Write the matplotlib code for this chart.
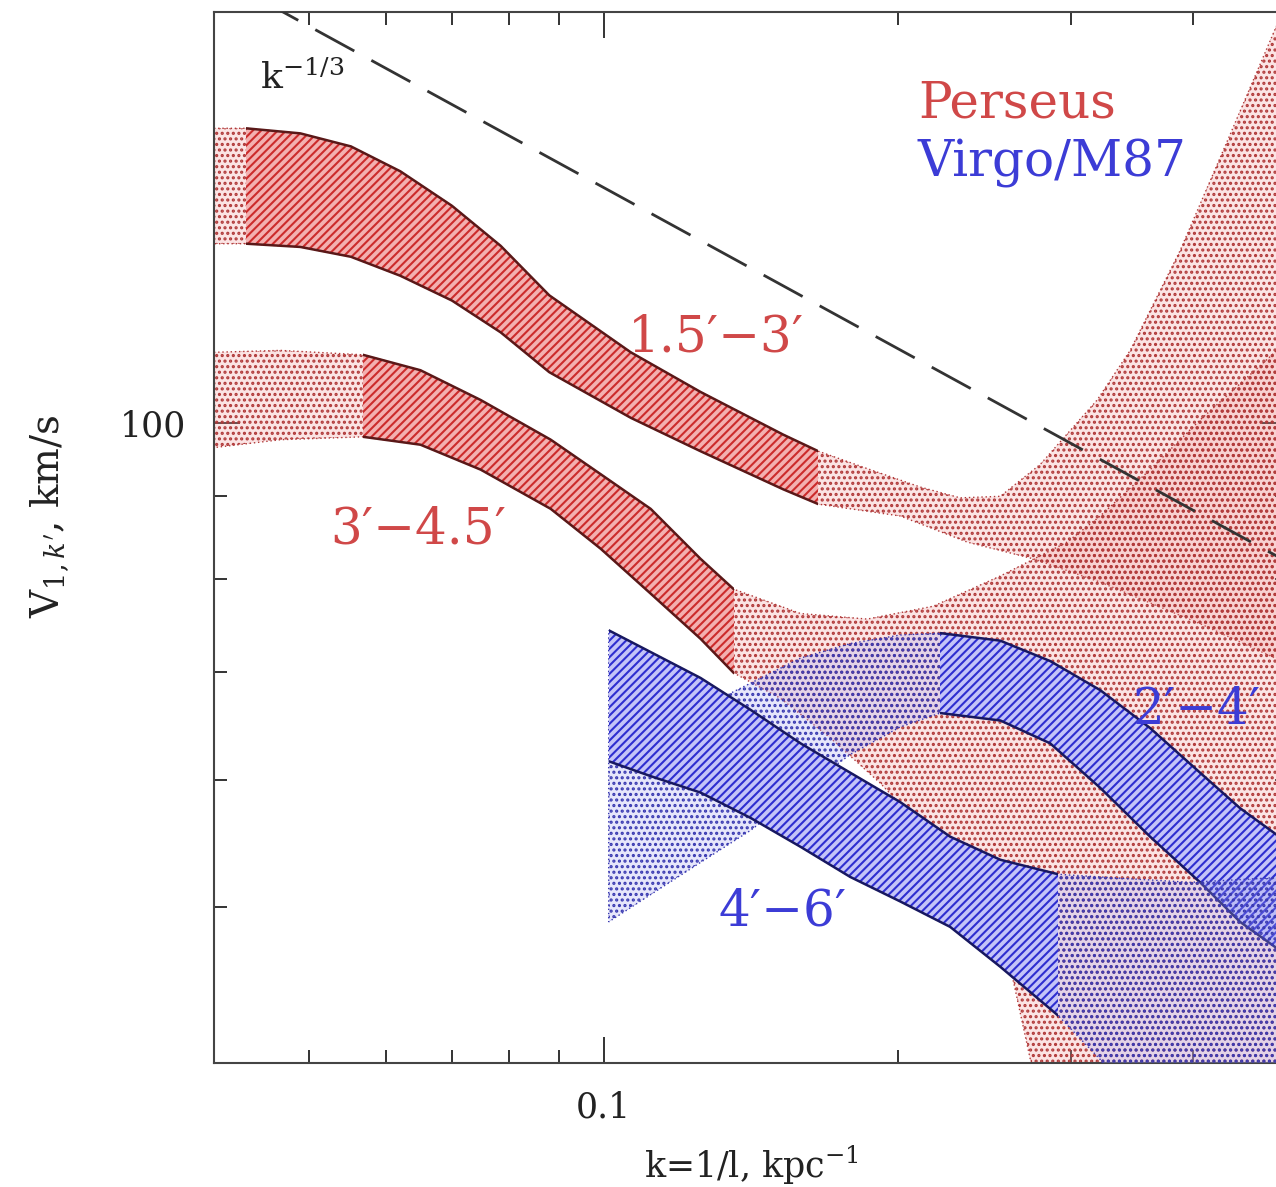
import numpy as np
import matplotlib
matplotlib.use("Agg")
import matplotlib.pyplot as plt
from matplotlib import ticker
from matplotlib.patches import Rectangle

plt.rcParams['font.family'] = ['DejaVu Serif']
plt.rcParams['mathtext.fontset'] = 'dejavuserif'
plt.rcParams['hatch.linewidth'] = 1.5

# Perseus 1.5'-3'
pa_k_up = [0.040, 0.0431, 0.049, 0.0552, 0.062, 0.070, 0.0785, 0.088, 0.1066, 0.1256, 0.1526,
           0.1657, 0.1872, 0.2106, 0.2313, 0.2542, 0.2792, 0.3192, 0.345, 0.3879, 0.4365, 0.4862, 0.5]
pa_v_up = [152.4, 152.4, 151.3, 148.5, 143.3, 136.4, 128.8, 120.0, 110.6, 104.5, 98.3,
           96.0, 93.5, 91.2, 89.8, 90.0, 94.2, 103.3, 110.9, 127.9, 151.1, 176.2, 182.5]
pa_k_lo = [0.040, 0.0431, 0.049, 0.0552, 0.062, 0.070, 0.0785, 0.088, 0.1066, 0.1256, 0.1526,
           0.1657, 0.2009, 0.2351, 0.2747, 0.3215, 0.4066, 0.5]
pa_v_lo = [129.2, 129.2, 128.6, 126.8, 123.4, 119.1, 113.8, 107.5, 100.7, 96.0, 90.9,
           89.0, 87.5, 84.3, 82.3, 79.6, 75.0, 70.8]
pa_meas = (0.0431, 0.1657)

# Perseus 3'-4.5'
pb_k_up = [0.040, 0.0468, 0.0568, 0.065, 0.0749, 0.0883, 0.0993, 0.1117, 0.1256, 0.1358,
           0.1589, 0.1859, 0.2171, 0.2542, 0.2975, 0.3215, 0.3615, 0.4066, 0.5]
pb_v_up = [110.6, 110.9, 110.2, 107.8, 103.3, 97.6, 92.9, 88.4, 82.3, 78.8,
           76.1, 75.5, 76.9, 80.3, 84.3, 87.5, 93.5, 100.4, 112.5]
pb_k_lo = [0.040, 0.0468, 0.0568, 0.065, 0.0749, 0.0883, 0.0993, 0.1117, 0.1256, 0.1358,
           0.1516, 0.1704, 0.1917, 0.2156, 0.2425, 0.2602, 0.2728, 0.2858, 0.5]
pb_v_lo = [96.5, 97.6, 98.0, 96.9, 93.5, 88.4, 83.5, 78.3, 73.4, 69.9,
           67.4, 63.7, 59.7, 55.3, 50.0, 45.9, 40.2, 35.5, 30.0]
pb_meas = (0.0568, 0.1358)

# Virgo/M87 2'-4'
va_k_up = [0.1012, 0.1117, 0.1256, 0.1348, 0.1589, 0.1786, 0.2009, 0.2207, 0.2542, 0.2858,
           0.3215, 0.3615, 0.4066, 0.4467, 0.5]
va_v_up = [61.6, 63.2, 66.0, 67.9, 71.4, 72.9, 73.8, 74.0, 73.2, 71.1,
           68.2, 64.6, 60.6, 57.6, 54.8]
va_k_lo = [0.1012, 0.1117, 0.1256, 0.1413, 0.1589, 0.1786, 0.2009, 0.2207, 0.2542, 0.2858,
           0.3215, 0.3615, 0.4066, 0.4467, 0.5]
va_v_lo = [48.95, 50.9, 53.3, 55.8, 59.0, 62.2, 64.7, 66.0, 65.3, 63.2,
           59.3, 55.3, 51.8, 48.95, 46.6]
va_meas = (0.2207, 0.5)

# Virgo/M87 4'-6'
vb_k_up = [0.1012, 0.1256, 0.1413, 0.1589, 0.1786, 0.2009, 0.2259, 0.2542, 0.2913, 0.3215, 0.3972, 0.5]
vb_v_up = [74.3, 69.4, 66.3, 63.2, 60.6, 58.1, 55.3, 53.5, 52.4, 52.2, 51.8, 52.2]
vb_k_lo = [0.1012, 0.1117, 0.1256, 0.1413, 0.1589, 0.1786, 0.2009, 0.2259, 0.2542, 0.2913,
           0.3215, 0.3615, 0.5]
vb_v_lo = [61.6, 60.3, 58.9, 56.8, 54.5, 52.2, 50.4, 48.6, 45.9, 42.8, 40.2, 35.5, 30.0]
vb_meas = (0.1012, 0.2913)

# k^-1/3 reference line
kol_k = [0.04, 0.5]
kol_v = [190.0, 81.9]

RED = dict(face='#f2a0a0', dots='#b03838', hface='#f3b0b0', lines='#cc2b2b', edge='#5a1818', text='#d04848')
BLUE = dict(face='#a8a8f4', dots='#3838b0', hface='#c4c4f8', lines='#2e2ed0', edge='#181860', text='#3c3cd6')


def band(ax, k_up, v_up, k_lo, v_lo, meas, c, z):
    xs = np.concatenate([k_up, k_lo[::-1]])
    ys = np.concatenate([v_up, v_lo[::-1]])
    # extrapolated part: light tint + dots
    ax.fill(xs, ys, facecolor=c['face'], alpha=0.28, lw=0, zorder=z)
    ax.fill(xs, ys, facecolor='none', edgecolor=c['dots'], hatch='...', lw=1.0,
            ls=(0, (1, 2)), zorder=z + 0.1)
    # measured part: dense hatching
    clip = Rectangle((meas[0], 1), meas[1] - meas[0], 1000, transform=ax.transData)
    p = ax.fill(xs, ys, facecolor=c['hface'], edgecolor=c['lines'], hatch='////', lw=0, zorder=z + 0.2)[0]
    p.set_clip_path(clip)
    for ln in ax.plot(k_up, v_up, k_lo, v_lo, color=c['edge'], lw=1.8, zorder=z + 0.3):
        ln.set_clip_path(clip)


fig = plt.figure(figsize=(12.76, 11.87), dpi=100)
ax = fig.add_axes([0.1677, 0.1045, 0.8417, 0.8854])
ax.set_xscale('log')
ax.set_yscale('log')

band(ax, pa_k_up, pa_v_up, pa_k_lo, pa_v_lo, pa_meas, RED, 1)
band(ax, pb_k_up, pb_v_up, pb_k_lo, pb_v_lo, pb_meas, RED, 2)
band(ax, va_k_up, va_v_up, va_k_lo, va_v_lo, va_meas, BLUE, 3)
band(ax, vb_k_up, vb_v_up, vb_k_lo, vb_v_lo, vb_meas, BLUE, 4)

ax.plot(kol_k, kol_v, color='#333333', lw=2, dashes=(16, 7), zorder=10)

ax.set_xlim(0.04, 0.5)
ax.set_ylim(40, 180)

fmt = ticker.FuncFormatter(lambda v, p: f'{v:g}')
ax.xaxis.set_major_formatter(fmt)
ax.yaxis.set_major_formatter(fmt)
ax.xaxis.set_minor_formatter(ticker.NullFormatter())
ax.yaxis.set_minor_formatter(ticker.NullFormatter())
ax.tick_params(which='both', direction='in', top=True, right=True, color='#333333',
               width=1.4, labelsize=25, labelcolor='#222222', pad=20)
ax.tick_params(which='major', length=19)
ax.tick_params(which='minor', length=9.5)
for s in ax.spines.values():
    s.set_linewidth(1.5)
    s.set_color('#444444')

ax.set_xlabel('k=1/l, kpc$^{-1}$', fontsize=25, color='#222222', va='center')
ax.xaxis.set_label_coords(0.5, -0.097)
ax.set_ylabel("V$_{1,k'}$, km/s", fontsize=28, color='#222222', va='center')
ax.yaxis.set_label_coords(-0.153, 0.52)

ax.text(0.0428, 0.937, '$\\mathrm{k}^{-1/3}$', transform=ax.transAxes, fontsize=26, color='#222222',
        ha='left', va='center', zorder=12)
ax.text(0.6555, 0.913, 'Perseus', transform=ax.transAxes, fontsize=36, color=RED['text'],
        ha='left', va='center', zorder=12)
ax.text(0.6555, 0.856, 'Virgo/M87', transform=ax.transAxes, fontsize=36, color=BLUE['text'],
        ha='left', va='center', zorder=12)
ax.text(0.3855, 0.690, '1.5\u2032\u22123\u2032', transform=ax.transAxes, fontsize=36, color=RED['text'],
        ha='left', va='center', zorder=12)
ax.text(0.108, 0.507, '3\u2032\u22124.5\u2032', transform=ax.transAxes, fontsize=36, color=RED['text'],
        ha='left', va='center', zorder=12)
ax.text(0.4693, 0.144, '4\u2032\u22126\u2032', transform=ax.transAxes, fontsize=36, color=BLUE['text'],
        ha='left', va='center', zorder=12)
ax.text(0.855, 0.336, '2\u2032\u22124\u2032', transform=ax.transAxes, fontsize=36, color=BLUE['text'],
        ha='left', va='center', zorder=12)

fig.savefig('out.png', dpi=100)
